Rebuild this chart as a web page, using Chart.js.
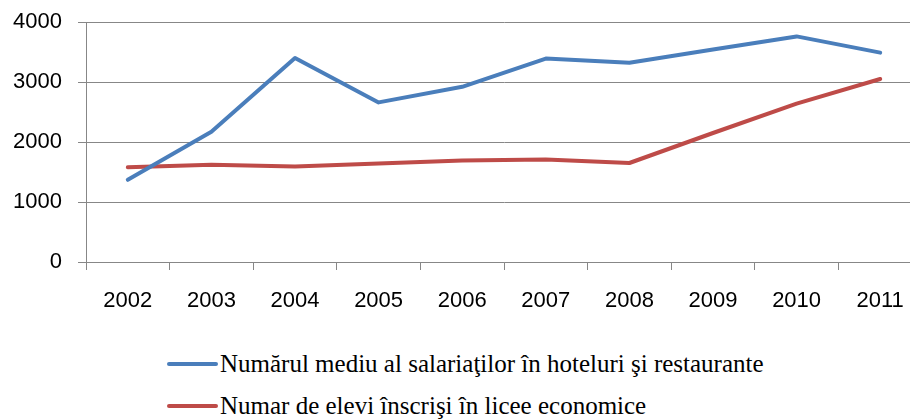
<!DOCTYPE html>
<html>
<head>
<meta charset="utf-8">
<script src="https://cdn.jsdelivr.net/npm/chart.js@4/dist/chart.umd.min.js"></script>
<style>
  html, body { margin: 0; padding: 0; background: #fff; overflow: hidden; width: 910px; height: 419px; }
  #wrap { position: absolute; left: 0; top: 0; width: 922px; height: 330px; }
  #legend { position: absolute; left: 167px; top: 343px; font-family: "Liberation Serif", "Times New Roman", serif; font-size: 25px; color: #000; }
  .item { height: 42px; display: flex; align-items: center; white-space: nowrap; }
  .swatch { width: 51px; height: 4px; border-radius: 2px; margin-right: 2px; }
</style>
</head>
<body>
<div id="wrap"><canvas id="c" width="922" height="330"></canvas></div>
<div id="legend"></div>
<script>
const years = ["2002","2003","2004","2005","2006","2007","2008","2009","2010","2011"];
const salariati = [1370, 2170, 3400, 2660, 2920, 3390, 3320, 3540, 3760, 3490];
const elevi = [1580, 1620, 1590, 1640, 1690, 1710, 1650, 2150, 2640, 3050];
const seriesNames = ["Numărul mediu al salariaţilor în hoteluri şi restaurante", "Numar de elevi înscrişi în licee economice"];
const seriesColors = ["#4A7EBB", "#BE4B48"];
const yTicks = [0, 1000, 2000, 3000, 4000];

const chart = new Chart(document.getElementById('c'), {
  type: 'line',
  data: {
    labels: years,
    datasets: [
      { label: seriesNames[0], data: salariati, borderColor: seriesColors[0], backgroundColor: seriesColors[0], borderWidth: 4, pointRadius: 0, tension: 0, borderCapStyle: 'round', borderJoinStyle: 'round' },
      { label: seriesNames[1], data: elevi, borderColor: seriesColors[1], backgroundColor: seriesColors[1], borderWidth: 4, pointRadius: 0, tension: 0, borderCapStyle: 'round', borderJoinStyle: 'round' }
    ]
  },
  options: {
    responsive: false,
    animation: false,
    layout: { padding: { top: 22, right: 0, bottom: 16, left: 0 } },
    plugins: { legend: { display: false }, tooltip: { enabled: false } },
    scales: {
      x: {
        offset: true,
        grid: { display: true, drawOnChartArea: false, drawTicks: true, tickLength: 8, color: '#878787', lineWidth: 1, offset: true },
        border: { display: true, color: '#878787', width: 1 },
        ticks: { color: '#000', font: { family: 'Liberation Sans', size: 22 }, padding: 18, maxRotation: 0 },
        afterFit: (s) => { s.height = 52; s.paddingLeft = 0; s.paddingRight = 0; }
      },
      y: {
        min: 0, max: 4000,
        afterBuildTicks: (s) => { s.ticks = yTicks.map(v => ({ value: v })); },
        grid: { color: '#878787', lineWidth: 1, tickLength: 8 },
        border: { display: true, color: '#878787', width: 1 },
        ticks: { color: '#000', font: { family: 'Liberation Sans', size: 22 }, padding: 16, callback: (v) => String(v) },
        afterFit: (s) => { s.width = 86; s.paddingTop = 0; s.paddingBottom = 0; }
      }
    }
  }
});

const leg = document.getElementById('legend');
seriesNames.forEach((n, i) => {
  const d = document.createElement('div');
  d.className = 'item';
  const sw = document.createElement('span');
  sw.className = 'swatch';
  sw.style.background = seriesColors[i];
  const t = document.createElement('span');
  t.textContent = n;
  d.appendChild(sw); d.appendChild(t);
  leg.appendChild(d);
});
</script>
</body>
</html>
